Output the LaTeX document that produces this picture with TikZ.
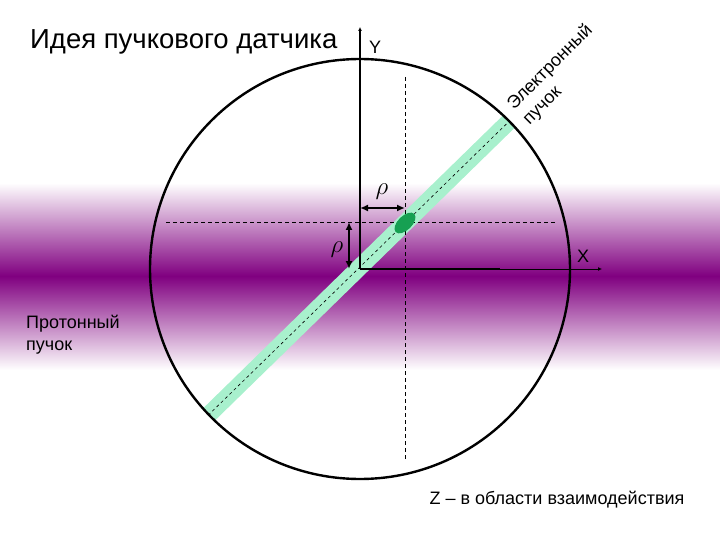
\documentclass[tikz,border=0pt]{standalone}
\usepackage{fontspec}
\setmainfont{Liberation Sans}
\usetikzlibrary{arrows.meta}
\definecolor{bandpurple}{RGB}{128,0,128}
\definecolor{beamgreen}{RGB}{168,240,205}
\definecolor{spotgreen}{RGB}{22,160,82}
\begin{document}
\begin{tikzpicture}[x=1pt,y=-1pt,
		lbl/.style={font=\fontsize{18}{22}\selectfont, inner sep=0pt},
		rholbl/.style={font=\fontsize{24}{26}\selectfont, inner sep=0pt},
		guide/.style={dashed, dash pattern=on 4pt off 3pt, line width=0.8pt},
		axistip/.style={-{Latex[length=4pt,width=4pt]}},
		rhoarrow/.style={line width=1.8pt, {Latex[length=8pt,width=7pt]}-{Latex[length=8pt,width=7pt]}}]
		\def\chamber{(360,269) circle (210pt)}
		\def\beamline{(105,516) -- (705,-70)}
		\useasboundingbox (0,0) rectangle (720,540);
		% proton beam band
		\shade[top color=white, bottom color=bandpurple] (0,183) rectangle (720,276);
		\shade[top color=bandpurple, bottom color=white] (0,276) rectangle (720,370);
		% electron beam, cut at the chamber wall
		\begin{scope}
			\clip \chamber;
			\draw[beamgreen, line width=17pt] \beamline;
			\draw[guide, line width=0.6pt, dash pattern=on 3pt off 3pt] \beamline;
		\end{scope}
		\draw[guide] (166,222) -- (556,222);
		\draw[guide] (405,77) -- (405,460);
		\fill[spotgreen, rotate around={44.4:(405,223)}] (405,223) ellipse (13pt and 7pt);
		\draw[line width=2.4pt] \chamber;
		% axes
		\coordinate (O) at (360,269);
		\coordinate (ytop) at (360,27);
		\coordinate (xmid) at (500,269);
		\coordinate (xend) at (602,269);
		\draw[line width=1.7pt, axistip] (O) -- (ytop);
		\draw[line width=1.7pt] (O) -- (xmid);
		\draw[line width=1pt, axistip] (xmid) -- (xend);
		% offsets
		\coordinate (hA) at (360,208);
		\coordinate (hB) at (405,208);
		\coordinate (vA) at (349,222);
		\coordinate (vB) at (349,269);
		\draw[rhoarrow] (hA) -- (hB);
		\draw[rhoarrow] (vA) -- (vB);
		\node[rholbl] (rhoh) at (382,192) {$\rho$};
		\node[rholbl] (rhov) at (337,250) {$\rho$};
		% texts
		\node[font=\fontsize{27.5}{30}\selectfont, inner sep=0pt, anchor=west] (title) at (30,42) {Идея пучкового датчика};
		\node[lbl] (ylbl) at (375,47) {Y};
		\node[lbl] (xlbl) at (583,256) {X};
		\node[lbl, align=left, anchor=west] (proton) at (26,335) {Протонный\\пучок};
		\node[lbl, align=left, rotate=45] (electron) at (558,75) {Электронный\\пучок};
		\node[lbl] (zlbl) at (557,500) {Z – в области взаимодействия};
	\end{tikzpicture}
\end{document}
